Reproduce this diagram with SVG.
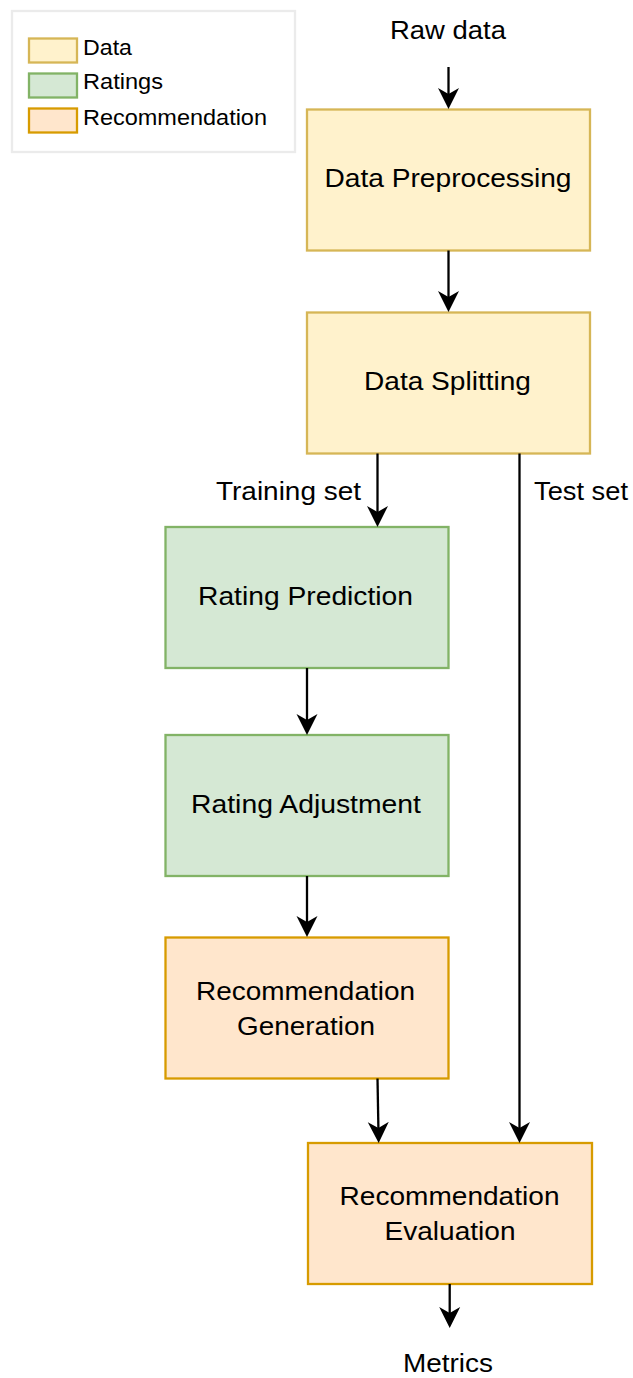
<svg xmlns="http://www.w3.org/2000/svg" width="633" height="1378" viewBox="0 0 633 1378">
<style>
text{font-family:"Liberation Sans",Arial,Helvetica,sans-serif;fill:#000}
.n{font-size:26px}
.lg{font-size:22px}
.data{fill:#fff2cc;stroke:#d6b656;stroke-width:2.3}
.rat{fill:#d5e8d4;stroke:#82b366;stroke-width:2.3}
.rec{fill:#ffe6cc;stroke:#d79b00;stroke-width:2.3}
.c{fill:none;stroke:#000;stroke-width:2.3}
</style>
<defs>
<marker id="arr" markerUnits="userSpaceOnUse" markerWidth="24" markerHeight="24" viewBox="0 0 24 24" refX="6" refY="11" orient="auto">
<path d="M0,0.5 L21,11 L0,21.5 L6,11 Z" fill="#000"/>
</marker>
</defs>
<rect width="633" height="1378" fill="#fff"/>
<g id="legend">
<rect x="12" y="11" width="283" height="141" fill="#fff" stroke="#ebebeb" stroke-width="2.3"/>
<rect class="data" x="29" y="38.5" width="48" height="24"/>
<text class="lg" x="83" y="55" textLength="49" lengthAdjust="spacingAndGlyphs">Data</text>
<rect class="rat" x="29" y="73.5" width="48" height="24"/>
<text class="lg" x="83" y="89" textLength="80" lengthAdjust="spacingAndGlyphs">Ratings</text>
<rect class="rec" x="29" y="108.5" width="48" height="24"/>
<text class="lg" x="83" y="125" textLength="184" lengthAdjust="spacingAndGlyphs">Recommendation</text>
</g>
<g id="raw-data"><text class="n" x="390" y="39" textLength="116" lengthAdjust="spacingAndGlyphs">Raw data</text></g>
<g id="data-preprocessing">
<rect class="data" x="307" y="109.5" width="283" height="141"/>
<text class="n" x="324.5" y="187" textLength="247" lengthAdjust="spacingAndGlyphs">Data Preprocessing</text>
</g>
<g id="data-splitting">
<rect class="data" x="307" y="312.5" width="283" height="141"/>
<text class="n" x="364" y="390" textLength="167" lengthAdjust="spacingAndGlyphs">Data Splitting</text>
</g>
<g id="rating-prediction">
<rect class="rat" x="165.5" y="527" width="283" height="141"/>
<text class="n" x="198" y="605" textLength="215" lengthAdjust="spacingAndGlyphs">Rating Prediction</text>
</g>
<g id="rating-adjustment">
<rect class="rat" x="165.5" y="735" width="283" height="141"/>
<text class="n" x="191" y="813" textLength="230" lengthAdjust="spacingAndGlyphs">Rating Adjustment</text>
</g>
<g id="recommendation-generation">
<rect class="rec" x="165.5" y="937.5" width="283" height="141"/>
<text class="n" x="196" y="1000" textLength="219" lengthAdjust="spacingAndGlyphs">Recommendation</text>
<text class="n" x="237" y="1035" textLength="138" lengthAdjust="spacingAndGlyphs">Generation</text>
</g>
<g id="recommendation-evaluation">
<rect class="rec" x="308" y="1143" width="284" height="141"/>
<text class="n" x="339.5" y="1205" textLength="220" lengthAdjust="spacingAndGlyphs">Recommendation</text>
<text class="n" x="384.5" y="1240" textLength="131" lengthAdjust="spacingAndGlyphs">Evaluation</text>
</g>
<g id="metrics"><text class="n" x="403" y="1372" textLength="90" lengthAdjust="spacingAndGlyphs">Metrics</text></g>
<g id="connectors">
<path class="c" d="M448.5,67 L448.5,94" marker-end="url(#arr)"/>
<path class="c" d="M448.5,250.5 L448.5,297" marker-end="url(#arr)"/>
<path class="c" d="M377.5,453.5 L377.5,512" marker-end="url(#arr)"/>
<path class="c" d="M519.5,453.5 L519.5,1128" marker-end="url(#arr)"/>
<path class="c" d="M307,668 L307,720" marker-end="url(#arr)"/>
<path class="c" d="M307,876 L307,922" marker-end="url(#arr)"/>
<path class="c" d="M377.5,1078.5 L378.4,1128" marker-end="url(#arr)"/>
<path class="c" d="M449.7,1284 L449.7,1313" marker-end="url(#arr)"/>
<text class="n" x="216" y="500" textLength="145" lengthAdjust="spacingAndGlyphs">Training set</text>
<text class="n" x="534" y="500" textLength="94" lengthAdjust="spacingAndGlyphs">Test set</text>
</g>
</svg>
